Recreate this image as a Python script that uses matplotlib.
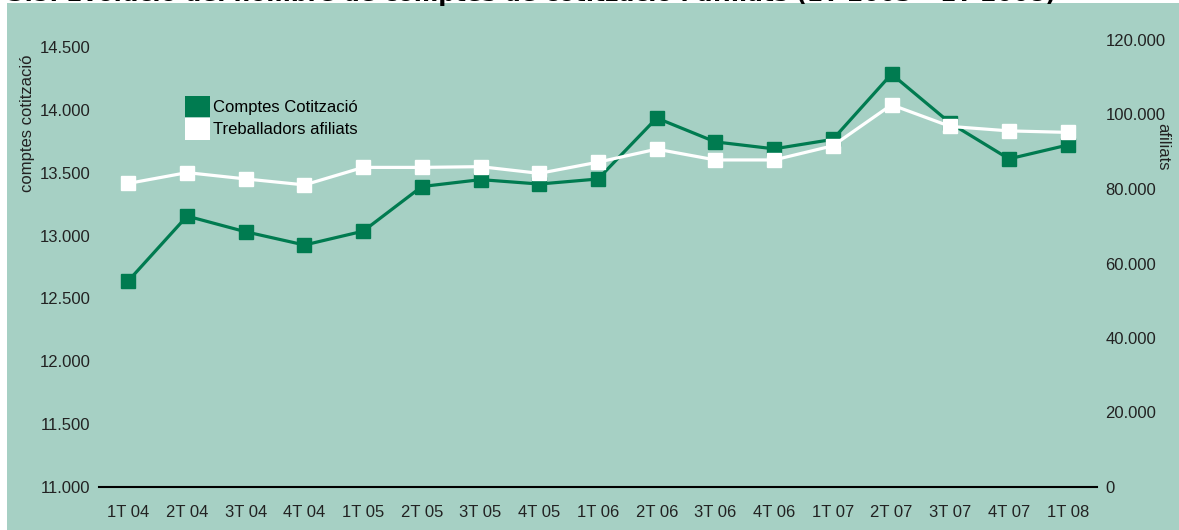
import numpy as np
import matplotlib.pyplot as plt
from matplotlib.patches import Rectangle, Patch
from matplotlib.ticker import FuncFormatter

#quarter labels
quarters = ['1T 04', '2T 04', '3T 04', '4T 04', '1T 05', '2T 05', '3T 05', '4T 05',
            '1T 06', '2T 06', '3T 06', '4T 06', '1T 07', '2T 07', '3T 07', '4T 07', '1T 08']

#comptes de cotitzacio (left axis)
comptes = [12640, 13155, 13030, 12925, 13035, 13390, 13445, 13410,
           13450, 13935, 13745, 13690, 13765, 14285, 13895, 13610, 13720]

#treballadors afiliats (right axis)
afiliats = [81500, 84400, 82700, 81100, 85800, 85800, 86000, 84200,
            87200, 90700, 87800, 87800, 91600, 102600, 96800, 95600, 95200]

left_ticks = [11000, 11500, 12000, 12500, 13000, 13500, 14000, 14500]
right_ticks = [0, 20000, 40000, 60000, 80000, 100000, 120000]

teal = '#a6d0c4'
green = '#007b50'

plt.rcParams['font.family'] = ['Liberation Sans', 'DejaVu Sans']

def thousands(v, pos):
    return '{:,.0f}'.format(v).replace(',', '.')

fig = plt.figure(figsize=(11.79, 5.30), dpi=100, facecolor='white')

#teal panel behind the chart
fig.patches.append(Rectangle((7/1179, 0), 1, 1 - 3/530, transform=fig.transFigure,
                             facecolor=teal, edgecolor='none', zorder=-10))

#title, clipped by the top edge
fig.text(8/1179, 1 - 0.5/530, '3.5. Evolució del nombre de comptes de cotització i afiliats (1T 2003 – 1T 2008)',
         fontsize=16.8, fontweight='bold', va='baseline', ha='left', family='DejaVu Sans')

ax = fig.add_axes([99/1179, 1 - 487/530, (1097-99)/1179, (487-40)/530])
ax.set_facecolor('none')
x = np.arange(len(quarters))

ax.plot(x, comptes, color=green, lw=2.3, marker='s', markersize=10.5,
        markerfacecolor=green, markeredgecolor=green, zorder=3)
ax.set_xlim(-0.5, len(quarters) - 0.5)
ax.set_ylim(11000, 11000 + 3500 * 447 / 440)
ax.set_yticks(left_ticks)
ax.yaxis.set_major_formatter(FuncFormatter(thousands))
ax.set_xticks(x)
ax.set_xticklabels(quarters)

ax2 = ax.twinx()
ax2.plot(x, afiliats, color='white', lw=2.3, marker='s', markersize=10,
         markerfacecolor='white', markeredgecolor='white', zorder=3)
ax2.set_ylim(0, 120000)
ax2.set_yticks(right_ticks)
ax2.yaxis.set_major_formatter(FuncFormatter(thousands))

for a in [ax, ax2]:
    for s in ['top', 'left', 'right']:
        a.spines[s].set_visible(False)
    a.spines['bottom'].set_color('black')
    a.spines['bottom'].set_linewidth(1.5)
ax2.spines['bottom'].set_visible(False)

ax.tick_params(axis='y', length=0, pad=6, labelsize=12, colors='#222222')
ax.tick_params(axis='x', length=0, pad=13, labelsize=12, colors='#222222')
ax2.tick_params(axis='y', length=0, pad=6, labelsize=12, colors='#222222')

#axis titles
fig.text(28/1179, 1 - 123/530, 'comptes cotització', rotation=90, fontsize=12,
         ha='center', va='center', color='#222222')
fig.text(1163/1179, 1 - 147/530, 'afiliats', rotation=-90, fontsize=12,
         ha='center', va='center', color='#222222')

#legend with square patches only
handles = [Patch(facecolor=green, edgecolor='none', label='Comptes Cotització'),
           Patch(facecolor='white', edgecolor='none', label='Treballadors afiliats')]
fig.legend(handles=handles, loc='upper left', bbox_to_anchor=(185/1179, 1 - 96/530),
           frameon=False, fontsize=12, handlelength=1.5, handleheight=1.6,
           handletextpad=0.2, labelspacing=0.05, borderpad=0, borderaxespad=0)

plt.savefig('out.png', dpi=100)
